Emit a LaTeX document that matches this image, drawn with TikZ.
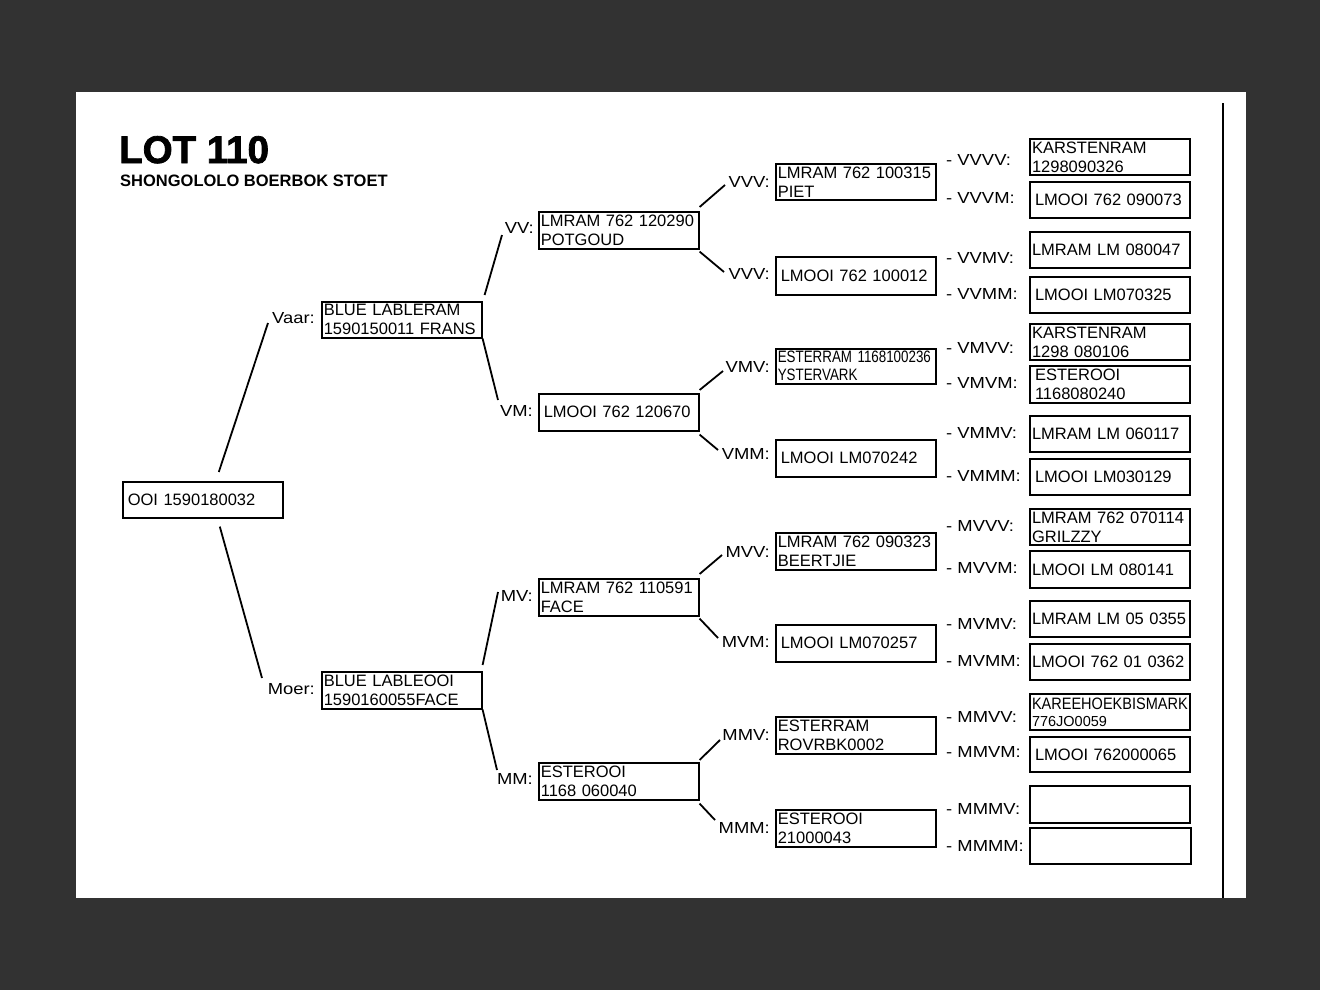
\documentclass[tikz,border=0pt]{standalone}
\usepackage{fontspec}
\setmainfont{Liberation Sans}
\newfontfamily\lblfont[FakeStretch=1.15]{Liberation Sans}
\newfontfamily\condfont[FakeStretch=0.81]{Liberation Sans}
\newfontfamily\narrowfont[FakeStretch=0.88]{Liberation Sans}
\newfontfamily\heavyfont[BoldFeatures={FakeBold=2}]{Liberation Sans}
\usetikzlibrary{calc}
\definecolor{bgdark}{RGB}{50,50,50}
\tikzset{
  pbox/.style={draw, line width=1.6pt, rectangle, inner xsep=2pt, inner ysep=0pt,
    text width=156pt, align=left, anchor=north west, minimum height=36pt,
    font=\fontsize{16.5}{19}\selectfont},
  pone/.style={pbox, inner xsep=5pt, text width=150pt},
  pfour/.style={pbox, line width=2pt},
  lblr/.style={inner sep=0pt, anchor=east, font=\lblfont\fontsize{16}{19}\selectfont},
  lbll/.style={inner sep=0pt, anchor=west, font=\lblfont\fontsize{16}{19}\selectfont},
  conn/.style={line width=1.8pt},
}
\begin{document}
\begin{tikzpicture}[x=1pt,y=-1pt]
\useasboundingbox (0,0) rectangle (1320,990);
\fill[bgdark] (0,0) rectangle (1320,990);
\fill[white] (76,92) rectangle (1246,898);
\draw[line width=1.5pt] (1223,103) coordinate (vtop) -- (1223,898) coordinate (vbot);

% title
\node[anchor=base west, inner sep=0pt, font=\heavyfont\bfseries\fontsize{38.5}{40}\selectfont] (title) at (119,163) {LOT 110};
\node[anchor=base west, inner sep=0pt, font=\bfseries\fontsize{16.5}{19}\selectfont] (subtitle) at (120,186) {SHONGOLOLO BOERBOK STOET};

% level 1
\node[pone, minimum height=36pt] (root) at (122,481) {OOI 1590180032};

% level 2
\node[pbox] (vaar) at (321,301) {BLUE LABLERAM\\1590150011 FRANS};
\node[pbox, minimum height=37pt] (moer) at (321,671) {BLUE LABLEOOI\\1590160055FACE};
\node[lblr] (lvaar) at (315,318) {Vaar:};
\node[lblr] (lmoer) at (315,689) {Moer:};

% level 3
\node[pbox, minimum height=37pt] (vv) at (538,211) {LMRAM 762 120290\\POTGOUD};
\node[pone, minimum height=37pt] (vm) at (538,393) {LMOOI 762 120670};
\node[pbox, minimum height=37pt] (mv) at (538,578) {LMRAM 762 110591\\FACE};
\node[pbox, minimum height=37pt] (mm) at (538,762) {ESTEROOI\\1168 060040};
\node[lblr] (lvv) at (534,228) {VV:};
\node[lblr] (lvm) at (533,411) {VM:};
\node[lblr] (lmv) at (533,596) {MV:};
\node[lblr] (lmm) at (533,779) {MM:};

% level 4
\node[pbox] (vvv) at (775,163) {LMRAM 762 100315\\PIET};
\node[pone, minimum height=38pt] (vvm) at (775,256) {LMOOI 762 100012};
\node[pbox, minimum height=35pt, font=\condfont\fontsize{16.5}{18}\selectfont] (vmv) at (775,348) {ESTERRAM 1168100236\\YSTERVARK};
\node[pone, minimum height=37pt] (vmm) at (775,439) {LMOOI LM070242};
\node[pbox, minimum height=37pt] (mvv) at (775,532) {LMRAM 762 090323\\BEERTJIE};
\node[pone, minimum height=37pt] (mvm) at (775,624) {LMOOI LM070257};
\node[pbox, minimum height=37pt] (mmv) at (775,716) {ESTERRAM\\ROVRBK0002};
\node[pbox, minimum height=37pt] (mmm) at (775,809) {ESTEROOI\\21000043};
\node[lblr] (lvvv) at (770,182) {VVV:};
\node[lblr] (lvvm) at (770,274) {VVV:};
\node[lblr] (lvmv) at (770,367) {VMV:};
\node[lblr] (lvmm) at (770,454) {VMM:};
\node[lblr] (lmvv) at (770,552) {MVV:};
\node[lblr] (lmvm) at (770,642) {MVM:};
\node[lblr] (lmmv) at (770,735) {MMV:};
\node[lblr] (lmmm) at (770,828) {MMM:};

% level 5
\node[pfour] (vvvv) at (1029,138) {KARSTENRAM\\1298090326};
\node[pfour, inner xsep=5pt, text width=150pt] (vvvm) at (1029,181) {LMOOI 762 090073};
\node[pfour] (vvmv) at (1029,231) {LMRAM LM 080047};
\node[pfour, inner xsep=5pt, text width=150pt] (vvmm) at (1029,276) {LMOOI LM070325};
\node[pfour] (vmvv) at (1029,323) {KARSTENRAM\\1298 080106};
\node[pfour, inner xsep=5pt, text width=150pt, minimum height=37pt] (vmvm) at (1029,365) {ESTEROOI\\1168080240};
\node[pfour] (vmmv) at (1029,415) {LMRAM LM 060117};
\node[pfour, inner xsep=5pt, text width=150pt] (vmmm) at (1029,458) {LMOOI LM030129};
\node[pfour] (mvvv) at (1029,508) {LMRAM 762 070114\\GRILZZY};
\node[pfour, minimum height=37pt] (mvvm) at (1029,550) {LMOOI LM 080141};
\node[pfour] (mvmv) at (1029,600) {LMRAM LM 05 0355};
\node[pfour] (mvmm) at (1029,643) {LMOOI 762 01 0362};
\node[pfour, font=\fontsize{14.5}{17}\selectfont] (mmvv) at (1029,693) {{\narrowfont\fontsize{16.5}{17}\selectfont KAREEHOEKBISMARK}\\776JO0059};
\node[pfour, inner xsep=5pt, text width=150pt, minimum height=35pt] (mmvm) at (1029,736) {LMOOI 762000065};
\node[pfour, minimum height=37pt] (mmmv) at (1029,785) {};
\node[pfour, minimum width=161pt] (mmmm) at (1029,827) {};

\node[lbll] (lvvvv) at (946,160) {- VVVV:};
\node[lbll] (lvvvm) at (946,197.5) {- VVVM:};
\node[lbll] (lvvmv) at (946,257.5) {- VVMV:};
\node[lbll] (lvvmm) at (946,294) {- VVMM:};
\node[lbll] (lvmvv) at (946,348) {- VMVV:};
\node[lbll] (lvmvm) at (946,383) {- VMVM:};
\node[lbll] (lvmmv) at (946,433) {- VMMV:};
\node[lbll] (lvmmm) at (946,476) {- VMMM:};
\node[lbll] (lmvvv) at (946,526) {- MVVV:};
\node[lbll] (lmvvm) at (946,568) {- MVVM:};
\node[lbll] (lmvmv) at (946,624) {- MVMV:};
\node[lbll] (lmvmm) at (946,661) {- MVMM:};
\node[lbll] (lmmvv) at (946,717) {- MMVV:};
\node[lbll] (lmmvm) at (946,752) {- MMVM:};
\node[lbll] (lmmmv) at (946,809) {- MMMV:};
\node[lbll] (lmmmm) at (946,846) {- MMMM:};

% connector free ends
\coordinate (e_vaar) at (268,323);
\coordinate (e_moer) at (262,678);
\coordinate (e_vv) at (502,235);
\coordinate (e_vm) at (498,400);
\coordinate (e_mv) at (498,592);
\coordinate (e_mm) at (497,770);
\coordinate (e_vvv) at (725,185);
\coordinate (e_vvm) at (724,272);
\coordinate (e_vmv) at (723,371);
\coordinate (e_vmm) at (718,450);
\coordinate (e_mvv) at (722,555);
\coordinate (e_mvm) at (718,638);
\coordinate (e_mmv) at (720,740);
\coordinate (e_mmm) at (715,820);

% connectors
\draw[conn] ([xshift=16pt,yshift=9pt]root.north) -- (e_vaar);
\draw[conn] ([xshift=17pt,yshift=-8pt]root.south) -- (e_moer);
\draw[conn] ([xshift=2pt,yshift=6pt]vaar.north east) -- (e_vv);
\draw[conn] (vaar.south east) -- (e_vm);
\draw[conn] ([yshift=6pt]moer.north east) -- (e_mv);
\draw[conn] (moer.south east) -- (e_mm);
\draw[conn] ([yshift=4pt]vv.north east) -- (e_vvv);
\draw[conn] ([yshift=-2pt]vv.south east) -- (e_vvm);
\draw[conn] ([yshift=3pt]vm.north east) -- (e_vmv);
\draw[conn] ([yshift=-3pt]vm.south east) -- (e_vmm);
\draw[conn] ([yshift=4pt]mv.north east) -- (e_mvv);
\draw[conn] ([yshift=-2pt]mv.south east) -- (e_mvm);
\draw[conn] ([yshift=2pt]mm.north east) -- (e_mmv);
\draw[conn] ([yshift=-3pt]mm.south east) -- (e_mmm);
\end{tikzpicture}
\end{document}
